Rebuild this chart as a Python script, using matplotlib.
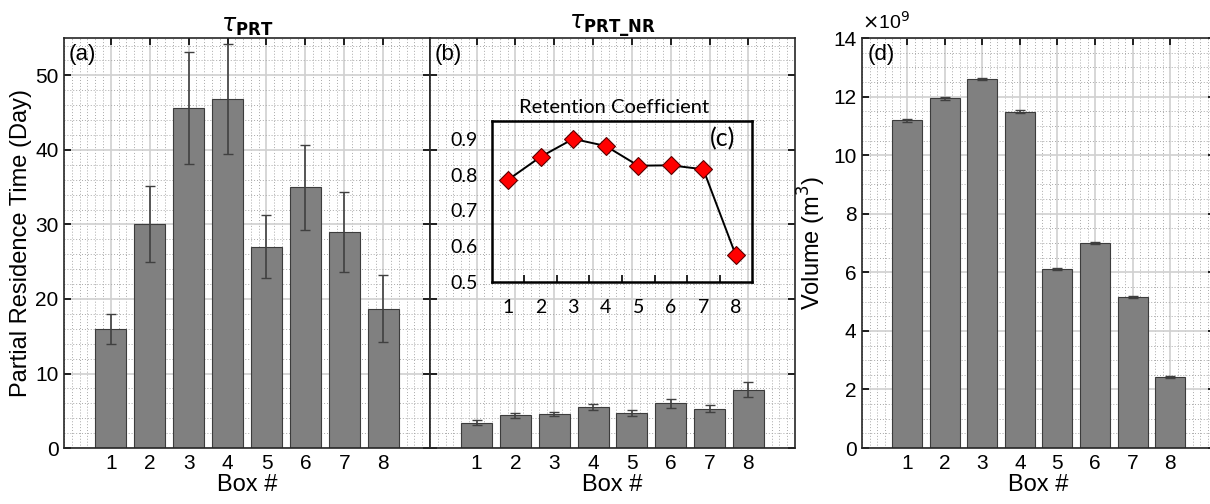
import numpy as np
import matplotlib
matplotlib.use('Agg')
import matplotlib.pyplot as plt
from matplotlib.ticker import MultipleLocator

plt.rcParams['font.family'] = ['Liberation Sans', 'DejaVu Sans']

boxes = [1, 2, 3, 4, 5, 6, 7, 8]

# (a) partial residence time, days
prt = [16.0, 30.0, 45.6, 46.8, 27.0, 35.0, 29.0, 18.7]
prt_err = [2.05, 5.1, 7.5, 7.4, 4.25, 5.7, 5.35, 4.5]

# (b) partial residence time, no return
prt_nr = [3.4, 4.4, 4.6, 5.5, 4.7, 6.0, 5.3, 7.8]
prt_nr_err = [0.3, 0.35, 0.3, 0.35, 0.35, 0.6, 0.45, 1.0]

# (c) retention coefficient
retention = [0.786, 0.850, 0.900, 0.880, 0.825, 0.826, 0.815, 0.575]

# (d) volume, m^3
volume = [11.2e9, 11.95e9, 12.6e9, 11.48e9, 6.12e9, 7.0e9, 5.17e9, 2.42e9]
volume_err = [0.05e9, 0.05e9, 0.04e9, 0.05e9, 0.03e9, 0.03e9, 0.03e9, 0.03e9]

bar_col = '#808080'
edge_col = '#3c3c3c'
err_col = '#404040'
inset_font = ['Lato', 'DejaVu Sans']


def style_ax(ax, ymin_step):
    ax.set_xlim(-0.2, 9.2)
    ax.set_xticks(boxes)
    ax.xaxis.set_minor_locator(MultipleLocator(0.2))
    ax.yaxis.set_minor_locator(MultipleLocator(ymin_step))
    ax.grid(which='major', color='#d0d0d0', linewidth=1.2, linestyle='-')
    ax.grid(which='minor', color='#a9a9a9', linewidth=0.7, linestyle=(0, (1, 2)))
    ax.set_axisbelow(True)
    ax.tick_params(which='major', direction='in', top=True, right=True,
                   length=5, width=1.2, labelsize=15, pad=4)
    ax.tick_params(which='minor', length=0, top=True, right=True)
    for s in ax.spines.values():
        s.set_color('#262626')
        s.set_linewidth(1.2)
    ax.set_xlabel('Box #', fontsize=17, labelpad=1)


def bars(ax, vals, errs):
    ax.bar(boxes, vals, width=0.8, color=bar_col, edgecolor=edge_col, linewidth=0.8,
           zorder=2)
    ax.errorbar(boxes, vals, yerr=errs, fmt='none', ecolor=err_col, elinewidth=1.2,
                capsize=3.5, capthick=1.0, zorder=3)


fig = plt.figure(figsize=(12.1, 5.04), dpi=100)

ax_a = fig.add_axes([0.0529, 0.111, 0.3025, 0.8135])
ax_b = fig.add_axes([0.3554, 0.111, 0.3016, 0.8135], sharey=ax_a)
ax_d = fig.add_axes([0.7124, 0.111, 0.292, 0.8135])

# panel (a)
bars(ax_a, prt, prt_err)
style_ax(ax_a, 2)
ax_a.set_ylim(0, 55)
ax_a.set_yticks([0, 10, 20, 30, 40, 50])
ax_a.set_ylabel('Partial Residence Time (Day)', fontsize=17, labelpad=2)
ax_a.set_title(r'$\tau_{\mathbf{PRT}}$', fontsize=17, pad=3)
ax_a.text(0.012, 0.985, '(a)', transform=ax_a.transAxes, fontsize=16,
          ha='left', va='top')

# panel (b)
bars(ax_b, prt_nr, prt_nr_err)
style_ax(ax_b, 2)
ax_b.tick_params(labelleft=False)
ax_b.set_title(r'$\tau_{\mathbf{PRT\_NR}}$', fontsize=17, pad=3)
ax_b.text(0.012, 0.985, '(b)', transform=ax_b.transAxes, fontsize=16,
          ha='left', va='top')

# panel (c) inset
ax_c = fig.add_axes([0.4066, 0.4405, 0.2149, 0.3195])
ax_c.patch.set_alpha(0)
ax_c.plot(boxes, retention, color='black', linewidth=1.4, marker='D',
          markersize=9, markerfacecolor='#ff0000', markeredgecolor='#5a0000',
          markeredgewidth=0.8, zorder=3, clip_on=False)
ax_c.set_xlim(0.5, 8.5)
ax_c.set_ylim(0.5, 0.95)
ax_c.set_xticks(boxes)
ax_c.set_yticks([0.5, 0.6, 0.7, 0.8, 0.9])
ax_c.set_xticks([1.5, 2.5, 3.5, 4.5, 5.5, 6.5, 7.5], minor=True)
ax_c.tick_params(axis='x', which='major', direction='in', length=0, labelsize=14, pad=12.5)
ax_c.tick_params(axis='y', which='major', direction='in', length=0, labelsize=14, pad=10)
ax_c.tick_params(which='minor', direction='in', length=5, width=1.2, bottom=True)
for lab in ax_c.get_xticklabels() + ax_c.get_yticklabels():
    lab.set_family(inset_font)
for s in ax_c.spines.values():
    s.set_color('black')
    s.set_linewidth(1.8)
ax_c.set_title('Retention Coefficient', fontsize=14.5, family=inset_font, pad=6, x=0.47)
ax_c.text(0.935, 0.96, '(c)', transform=ax_c.transAxes, fontsize=18,
          family=inset_font, ha='right', va='top')

# panel (d)
bars(ax_d, volume, volume_err)
style_ax(ax_d, 0.5e9)
ax_d.set_ylim(0, 14e9)
ax_d.set_yticks(np.arange(0, 15e9, 2e9))
ax_d.set_yticklabels([str(v) for v in range(0, 15, 2)])
ax_d.set_ylabel('Volume (m$^3$)', fontsize=17, labelpad=4)
ax_d.text(0.015, 0.985, '(d)', transform=ax_d.transAxes, fontsize=16,
          ha='left', va='top')
ax_d.text(0.0, 1.012, r'$\times$10$^9$', transform=ax_d.transAxes, fontsize=14,
          ha='left', va='bottom')

fig.savefig('out.png', dpi=100)
